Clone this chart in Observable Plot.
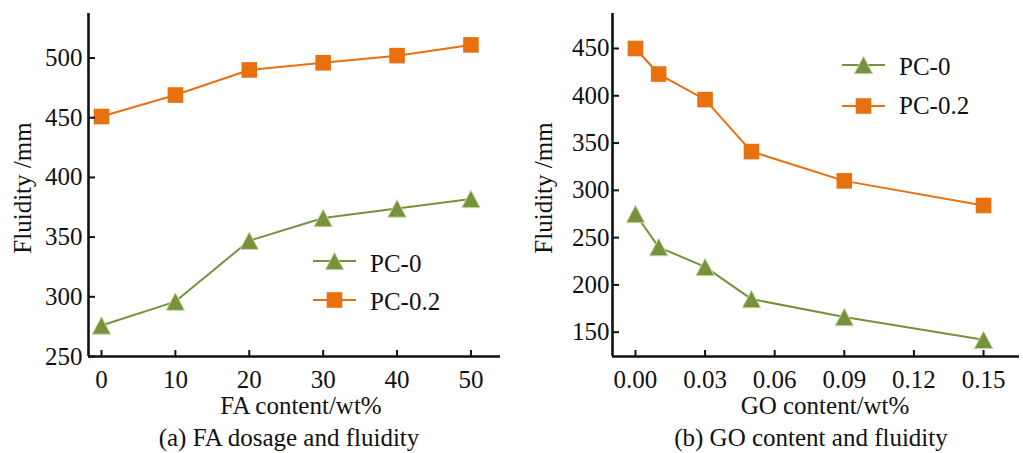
<!DOCTYPE html>
<html>
<head>
<meta charset="utf-8">
<script src="https://cdn.jsdelivr.net/npm/d3@7"></script>
<script src="https://cdn.jsdelivr.net/npm/@observablehq/plot@0.6"></script>
<style>
  body { margin: 0; background: #fff; }
  #chart { position: relative; width: 1023px; height: 453px; font-family: "Liberation Serif", "Times New Roman", serif; color: #111; overflow: hidden; }
  .panel { position: absolute; top: 0; }
  .txt { position: absolute; font-size: 25px; line-height: 1; white-space: nowrap; transform: translate(-50%, -50%); }
  .ytitle { transform: translate(-50%, -50%) rotate(-90deg); }
  .leg { position: absolute; font-size: 25px; line-height: 1; white-space: nowrap; transform: translateY(-50%); }
  .sw { position: absolute; }
</style>
</head>
<body>
<div id="chart"></div>
<script>
// Fluidity measurements (mm) for two superplasticizer series
const seriesNames = ["PC-0", "PC-0.2"];
const seriesColors = ["#76923c", "#e8700e"];

// (a) fly-ash dosage
const faContent = [0, 10, 20, 30, 40, 50];
const faPC0 = [276, 296, 347, 366, 374, 382];
const faPC02 = [451, 469, 490, 496, 502, 511];
const faTicksX = [0, 10, 20, 30, 40, 50];
const faTicksY = [250, 300, 350, 400, 450, 500];

// (b) graphene-oxide content
const goContent = [0, 0.01, 0.03, 0.05, 0.09, 0.15];
const goPC0 = [275, 240, 219, 185, 166, 142];
const goPC02 = [450, 423, 396, 341, 310, 284];
const goTicksX = [0, 0.03, 0.06, 0.09, 0.12, 0.15];
const goTicksY = [150, 200, 250, 300, 350, 400, 450];

const axisTitleY = "Fluidity /mm";
const panels = [
  { xs: faContent, ys: [faPC0, faPC02], ticksX: faTicksX, ticksY: faTicksY,
    xDomain: [-1.76, 54], yDomain: [250, 537.3], fmt: d3.format("d"),
    left: 0, width: 511, marginLeft: 88, marginRight: 11, padY: 6,
    xTitle: "FA content/wt%", caption: "(a) FA dosage and fluidity",
    xTitleX: 301, captionX: 289, yTitleX: 22,
    legend: { lineX: 313, textX: 370, rows: [[260.5, 263], [299.5, 301]] } },
  { xs: goContent, ys: [goPC0, goPC02], ticksX: goTicksX, ticksY: goTicksY,
    xDomain: [-0.0099, 0.1655], yDomain: [124.3, 487], fmt: d3.format(".2f"),
    left: 511, width: 512, marginLeft: 101, marginRight: 4, padY: 3,
    xTitle: "GO content/wt%", caption: "(b) GO content and fluidity",
    xTitleX: 825, captionX: 811, yTitleX: 543,
    legend: { lineX: 842, textX: 899, rows: [[65, 66], [105.5, 104.5]] } }
];

const H = 420, marginTop = 13, marginBottom = 64;
const plotH = H - marginTop - marginBottom;

// triangle centred on its bounding box
const triangle = {
  draw(ctx, size) {
    const s = Math.sqrt(size / Math.PI);
    const h = s * 1.9;
    ctx.moveTo(0, -h / 2);
    ctx.lineTo(s, h / 2);
    ctx.lineTo(-s, h / 2);
    ctx.closePath();
  }
};
const symbols = [triangle, "square"];
const radii = [9.2, 8.8];
const outlines = ["#c9d9a6", "none"];

const chart = document.getElementById("chart");

function addText(cls, text, x, y) {
  const d = document.createElement("div");
  d.className = cls;
  d.textContent = text;
  d.style.left = x + "px";
  d.style.top = y + "px";
  chart.appendChild(d);
  return d;
}

panels.forEach(p => {
  const plotW = p.width - p.marginLeft - p.marginRight;
  const marks = [];
  p.ys.forEach((vals, i) => {
    const rows = p.xs.map((x, j) => ({ x, y: vals[j], series: seriesNames[i] }));
    marks.push(Plot.line(rows, { x: "x", y: "y", stroke: seriesColors[i], strokeWidth: 2 }));
  });
  p.ys.forEach((vals, i) => {
    const rows = p.xs.map((x, j) => ({ x, y: vals[j], series: seriesNames[i] }));
    marks.push(Plot.dot(rows, { x: "x", y: "y", symbol: () => symbols[i], r: radii[i],
      fill: seriesColors[i], stroke: outlines[i], strokeWidth: 1 }));
  });
  // inward tick marks
  marks.push(Plot.tickY(p.ticksY, { y: d => d, stroke: "#111", strokeWidth: 2, insetRight: plotW - 7 }));
  marks.push(Plot.tickX(p.ticksX, { x: d => d, stroke: "#111", strokeWidth: 2, insetTop: plotH - 6 }));
  // axis lines
  marks.push(Plot.ruleX([p.xDomain[0]], { stroke: "#111", strokeWidth: 2.6 }));
  marks.push(Plot.ruleY([p.yDomain[0]], { stroke: "#111", strokeWidth: 2.6 }));
  marks.push(Plot.axisX(p.ticksX, { tickSize: 0, tickPadding: 14, tickFormat: p.fmt, label: null, fill: "#111" }));
  marks.push(Plot.axisY(p.ticksY, { tickSize: 0, tickPadding: p.padY, label: null, fill: "#111" }));

  const svg = Plot.plot({
    width: p.width, height: H,
    marginLeft: p.marginLeft, marginRight: p.marginRight, marginTop, marginBottom,
    x: { domain: p.xDomain },
    y: { domain: p.yDomain },
    style: { fontFamily: '"Liberation Serif", "Times New Roman", serif', fontSize: "25px", color: "#111", background: "transparent", overflow: "visible" },
    marks
  });
  const wrap = document.createElement("div");
  wrap.className = "panel";
  wrap.style.left = p.left + "px";
  wrap.appendChild(svg);
  chart.appendChild(wrap);

  addText("txt", p.xTitle, p.xTitleX, 405);
  addText("txt", p.caption, p.captionX, 437);
  addText("txt ytitle", axisTitleY, p.yTitleX, 188);

  // legend
  p.legend.rows.forEach(([ly, ty], i) => {
    const sw = d3.create("svg").attr("class", "sw").attr("width", 44).attr("height", 24)
      .style("left", p.legend.lineX + "px").style("top", (ly - 12) + "px");
    sw.append("line").attr("x1", 0).attr("x2", 43).attr("y1", 12).attr("y2", 12)
      .attr("stroke", seriesColors[i]).attr("stroke-width", 2);
    const sym = d3.symbol(i === 0 ? triangle : d3.symbolSquare, Math.PI * radii[i] * radii[i]);
    sw.append("path").attr("d", sym()).attr("transform", "translate(21.5,12)")
      .attr("fill", seriesColors[i]).attr("stroke", outlines[i]).attr("stroke-width", 1);
    chart.appendChild(sw.node());
    const t = document.createElement("div");
    t.className = "leg";
    t.textContent = seriesNames[i];
    t.style.left = p.legend.textX + "px";
    t.style.top = ty + "px";
    chart.appendChild(t);
  });
});
</script>
</body>
</html>
